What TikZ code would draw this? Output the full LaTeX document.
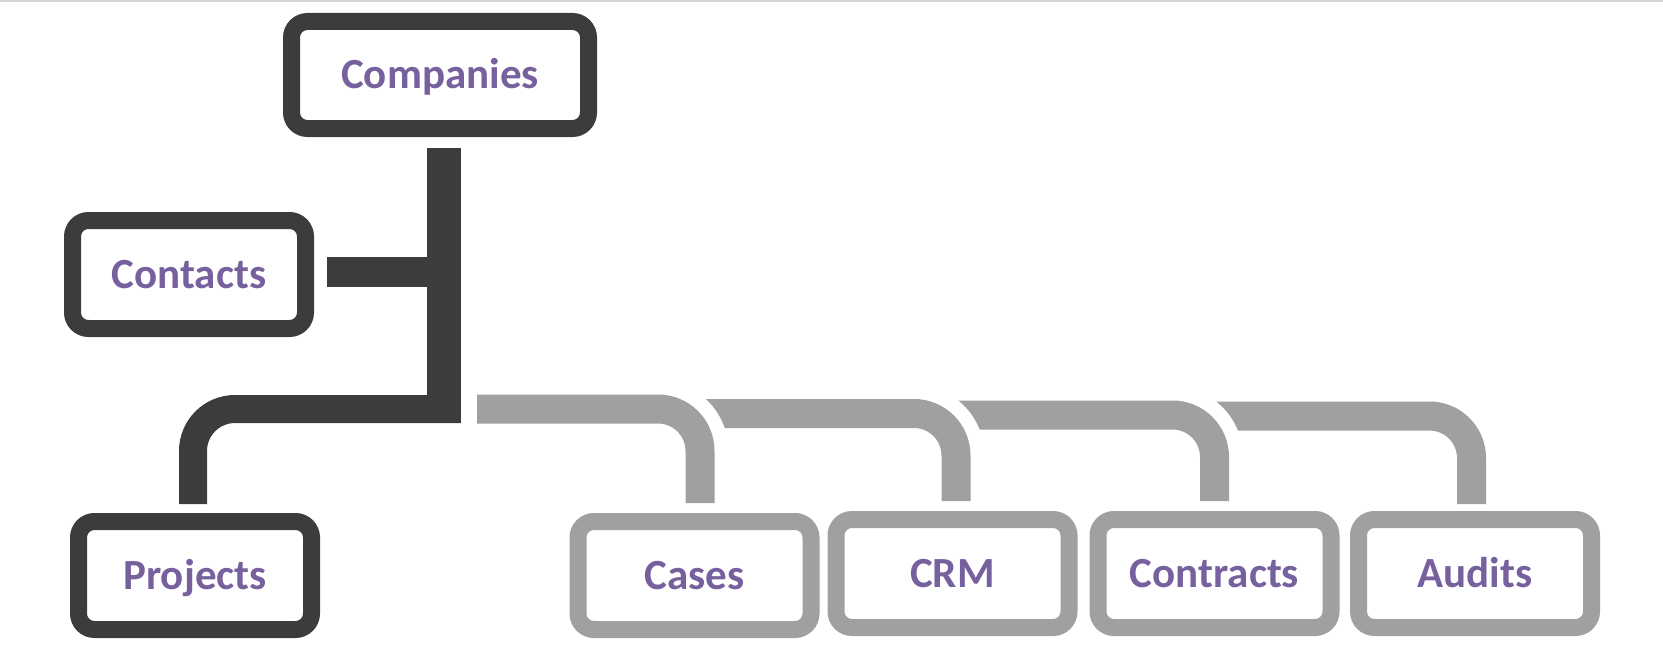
\documentclass[tikz,border=0pt]{standalone}
\usepackage{fontspec}
\setmainfont{Carlito}
\usetikzlibrary{calc}
\definecolor{darkc}{RGB}{60,60,60}
\definecolor{grayc}{RGB}{160,160,160}
\definecolor{textc}{RGB}{118,96,158}
\definecolor{topc}{RGB}{214,214,214}
\begin{document}
\begin{tikzpicture}[x=1pt,y=-1pt,
 box/.style={rectangle, rounded corners=16pt, line width=17pt, fill=white,
   minimum width=233pt, minimum height=108pt, inner sep=0pt, outer sep=0pt,
   text=textc, font=\fontsize{43}{50}\selectfont\bfseries,
   text height=27.7pt, text depth=0pt},
 darkbox/.style={box, draw=darkc},
 graybox/.style={box, draw=grayc},
 darkline/.style={draw=darkc, line width=28pt, rounded corners=42pt},
 grayline/.style={draw=grayc, line width=29pt, rounded corners=42pt,
   preaction={draw=white, line width=57pt}},
]
\useasboundingbox (0,0) rectangle (1663,669);
\draw[topc, line width=2pt] (0,1) -- (1663,1);

\node[darkbox, minimum width=297pt, minimum height=107pt] (companies) at (440,75) {Companies};
\node[darkbox] (contacts) at (189,274.5) {Contacts};
\node[darkbox] (projects) at (195,575.5) {Projects};
\node[graybox] (cases) at (694.5,575.5) {Cases};
\node[graybox] (crm) at (952.5,573.5) {CRM};
\node[graybox] (contracts) at (1214.5,573.5) {Contracts};
\node[graybox] (audits) at (1475,573.5) {Audits};

\coordinate (hub) at (443.5,409);

% dark connectors
\draw[darkc, line width=34pt] ($(companies.south)+(3.5,19)$) -- ($(hub)+(0,14)$);
\coordinate (cb) at ($(contacts.east)+(21.5,-2.5)$);
\draw[darkc, line width=30pt] (cb) -- (cb -| hub);
\draw[darkline] ($(hub)+(17,0)$) -| ($(projects.north)+(-2,-17.5)$);

% gray connectors (right to left, each cutting the next one)
\draw[grayline] ($(contracts.north)+(-27,-103.5)$) -| ($(audits.north)+(-3.5,-15.5)$);
\draw[grayline] ($(crm.north)+(-24,-104.5)$) -| ($(contracts.north)+(0,-18.5)$);
\draw[grayline] ($(cases.north)+(-22,-108)$) -| ($(crm.north)+(3.5,-18.5)$);
\draw[grayline] ($(hub)+(33.5,0)$) -| ($(cases.north)+(5.5,-18.5)$);
\end{tikzpicture}
\end{document}
